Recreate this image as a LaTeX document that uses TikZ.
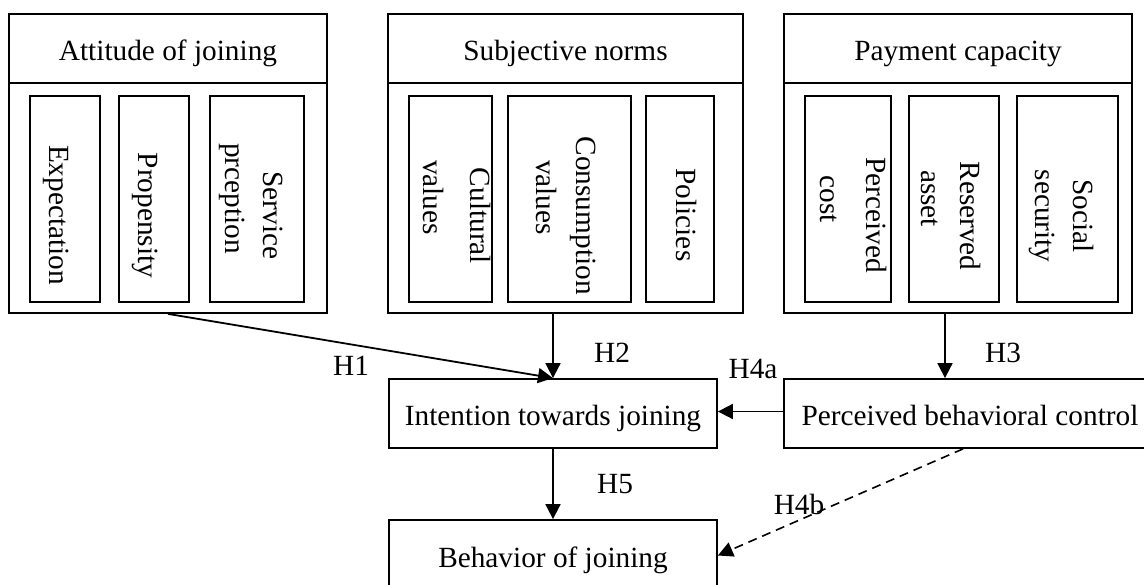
\documentclass[tikz,border=0pt]{standalone}
\usepackage{fontspec}
\setmainfont{Liberation Serif}
\usetikzlibrary{arrows.meta}

\tikzset{
  frame/.style={draw, line width=1.8pt, inner sep=0pt, rectangle},
  headbox/.style={frame, minimum height=69pt, text height=24pt, text depth=0pt},
  factor/.style={frame, minimum height=206pt},
  concept/.style={frame, minimum height=69pt, text height=23pt, text depth=0pt},
  vlabel/.style={rotate=-90, anchor=base, inner sep=0pt},
  hlabel/.style={inner sep=0pt},
  arr/.style={line width=1.8pt, -{Triangle[length=15pt,width=15pt]}},
  dasharr/.style={arr, line width=1.6pt, dash pattern=on 9pt off 6pt}
}

\begin{document}
\begin{tikzpicture}[x=1pt, y=-1pt, font=\fontsize{29.3pt}{34pt}\selectfont]
\useasboundingbox (0,0) rectangle (1144,585);
\clip (0,0) rectangle (1144,585);

% ---- attitude of joining ----
\node[frame, minimum width=318pt, minimum height=299pt] (att) at (168,163.5) {};
\node[headbox, minimum width=318pt] (atth) at (168,48.5) {Attitude of joining};
\node[factor, minimum width=70pt] (a1) at (65,199) {};
\node[factor, minimum width=70pt] (a2) at (154,199) {};
\node[factor, minimum width=94pt] (a3) at (257,199) {};
\node[vlabel] (a1t) at (49.3,215) {Expectation};
\node[vlabel] (a2t) at (138.3,215.5) {Propensity};
\node[vlabel] (a3t) at (263,215.5) {Service};
\node[vlabel] (a3u) at (225.5,198.5) {prception};

% ---- subjective norms ----
\node[frame, minimum width=355pt, minimum height=299pt] (sub) at (565.5,163.5) {};
\node[headbox, minimum width=355pt] (subh) at (565.5,48.5) {Subjective norms};
\node[factor, minimum width=82.7pt] (s1) at (450.3,199) {};
\node[factor, minimum width=122.4pt] (s2) at (569.5,199) {};
\node[factor, minimum width=68pt] (s3) at (680,199) {};
\node[vlabel] (s1t) at (470,216) {Cultural};
\node[vlabel] (s1u) at (423.3,197.5) {values};
\node[vlabel] (s2t) at (576,215.7) {Consumption};
\node[vlabel] (s2u) at (536.7,197.5) {values};
\node[vlabel] (s3t) at (676.7,215) {Policies};

% ---- payment capacity ----
\node[frame, minimum width=348pt, minimum height=299pt] (pay) at (958,163.5) {};
\node[headbox, minimum width=348pt] (payh) at (958,48.5) {Payment capacity};
\node[factor, minimum width=85.7pt] (p1) at (847.8,199) {};
\node[factor, minimum width=90pt] (p2) at (954.3,199) {};
\node[factor, minimum width=101pt] (p3) at (1067.8,199) {};
\node[vlabel] (p1t) at (866.7,215) {Perceived};
\node[vlabel] (p1u) at (820.7,199.5) {cost};
\node[vlabel] (p2t) at (960,216) {Reserved};
\node[vlabel] (p2u) at (921.7,198.5) {asset};
\node[vlabel] (p3t) at (1073.3,216) {Social};
\node[vlabel] (p3u) at (1035,216) {security};

% ---- constructs ----
\node[concept, minimum width=328pt] (int) at (553,413.5) {Intention towards joining};
\node[concept, minimum width=372pt] (pbc) at (970,413.5) {Perceived behavioral control};
\node[concept, minimum width=328pt, minimum height=71pt] (beh) at (553,555.5) {Behavior of joining};

% ---- paths ----
\coordinate (h3) at ([xshift=-25pt]pbc.north);
\coordinate (h4a) at ([yshift=2pt]int.east);
\draw[arr] (att.south) -- (int.north);
\draw[arr] (int.north |- sub.south) -- (int.north);
\draw[arr] (pay.south -| h3) -- (h3);
\draw[arr] (h4a -| pbc.west) -- (h4a);
\draw[arr] (int.south) -- (beh.north);
\draw[dasharr] ([xshift=-7pt]pbc.south) -- (beh.east);

% ---- hypothesis labels ----
\node[hlabel] (l1) at (351,366) {H1};
\node[hlabel] (l2) at (612,352.5) {H2};
\node[hlabel] (l3) at (1003,352.5) {H3};
\node[hlabel] (l4a) at (753,369) {H4a};
\node[hlabel] (l4b) at (799,504) {H4b};
\node[hlabel] (l5) at (615,484) {H5};
\end{tikzpicture}
\end{document}
